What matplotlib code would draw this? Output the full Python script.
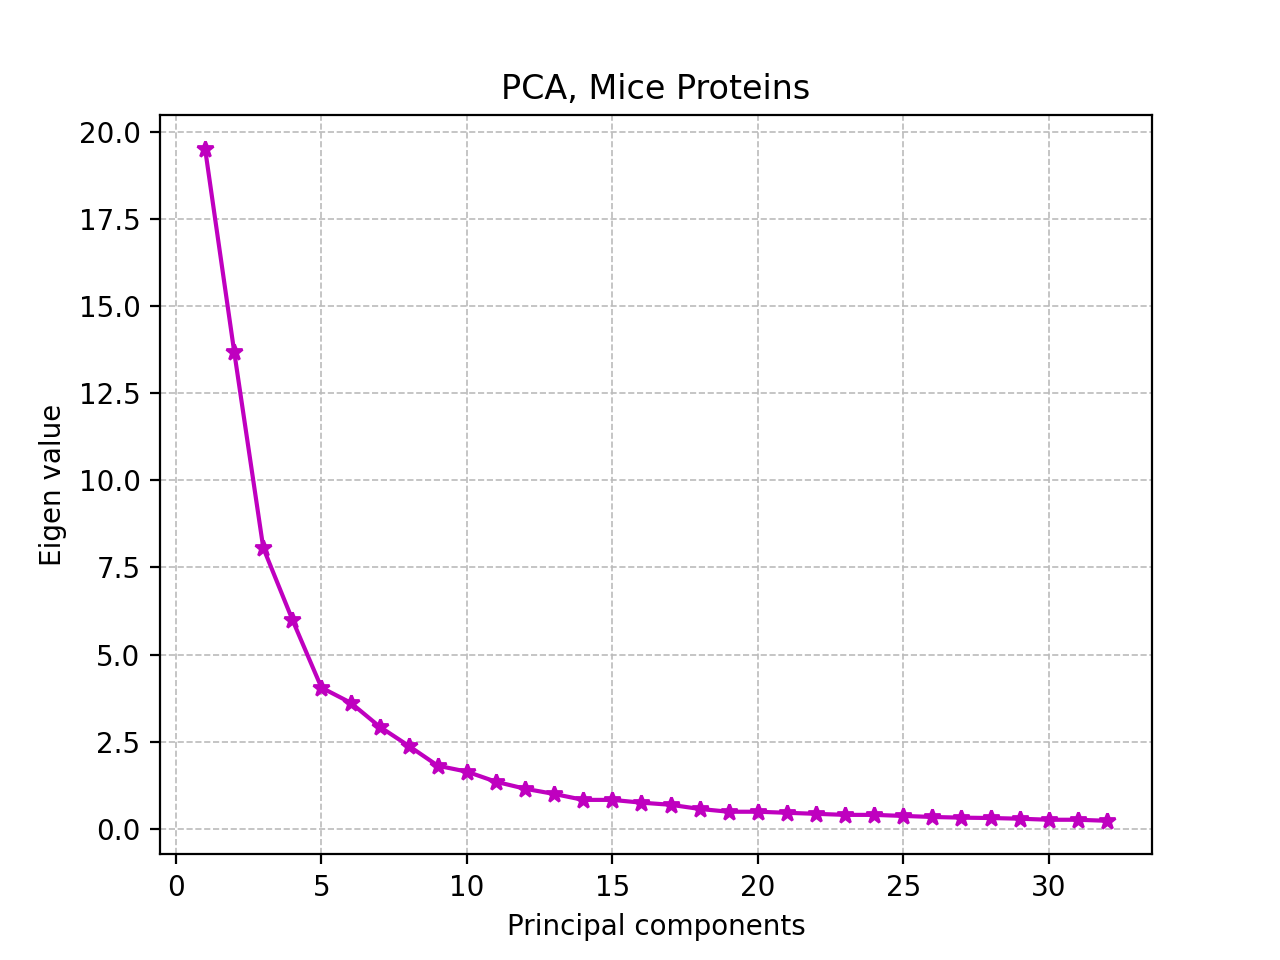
import matplotlib
matplotlib.use("Agg")
import matplotlib.pyplot as plt

components = list(range(1, 33))
eigen_values = [19.51, 13.69, 8.06, 6.0, 4.05, 3.62, 2.93, 2.38, 1.81, 1.64,
                1.35, 1.15, 1.0, 0.83, 0.83, 0.75, 0.69, 0.57, 0.49, 0.49,
                0.46, 0.43, 0.40, 0.40, 0.37, 0.34, 0.32, 0.31, 0.29, 0.26,
                0.26, 0.23]

fig, ax = plt.subplots(figsize=(6.4, 4.8))
ax.plot(components, eigen_values, color='m', marker='*')
ax.grid(True, linestyle='--', color='#bbbbbb', linewidth=0.6)
ax.set_title('PCA, Mice Proteins')
ax.set_xlabel('Principal components')
ax.set_ylabel('Eigen value')
plt.savefig('out.png', dpi=200)
plt.close('all')
